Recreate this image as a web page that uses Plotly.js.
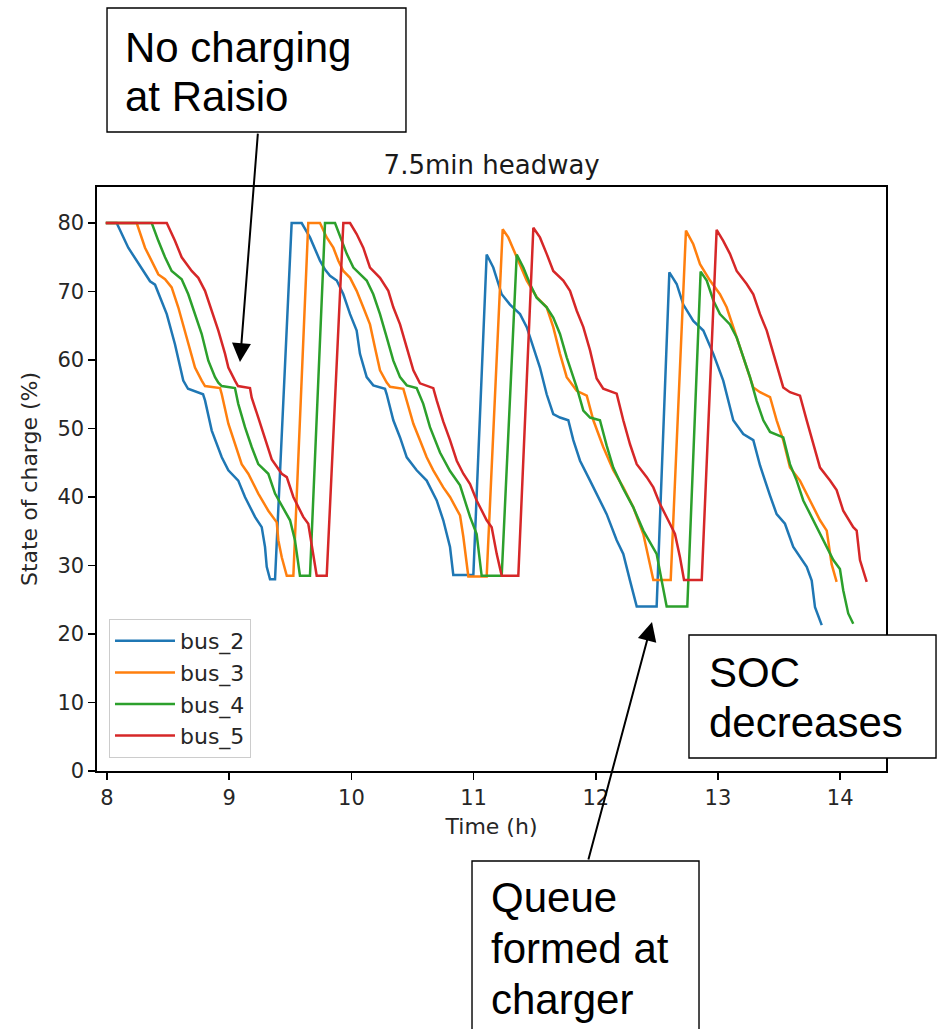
<!DOCTYPE html>
<html>
<head>
<meta charset="utf-8">
<script src="https://cdn.plot.ly/plotly-3.0.1.min.js"></script>
<style>
  html, body { margin: 0; padding: 0; background: #ffffff; }
  #chart { width: 941px; height: 1029px; }
</style>
</head>
<body>
<div id="chart"></div>
<script>
// State of charge of four buses over the operating day (time in hours, SOC in %)
const bus2Time = [7.99, 8.079, 8.174, 8.311, 8.352, 8.393, 8.489, 8.556, 8.624, 8.663, 8.786, 8.802, 8.857, 8.939, 8.993, 9.074, 9.129, 9.211, 9.266, 9.293, 9.307, 9.334, 9.375, 9.511, 9.593, 9.661, 9.743, 9.784, 9.825, 9.880, 9.934, 9.989, 10.043, 10.070, 10.125, 10.179, 10.275, 10.289, 10.343, 10.398, 10.453, 10.534, 10.616, 10.698, 10.752, 10.807, 10.834, 10.998, 11.107, 11.161, 11.230, 11.298, 11.380, 11.435, 11.489, 11.543, 11.598, 11.652, 11.707, 11.775, 11.816, 11.871, 11.953, 12.034, 12.089, 12.171, 12.225, 12.280, 12.335, 12.498, 12.602, 12.662, 12.716, 12.798, 12.880, 12.962, 13.043, 13.125, 13.207, 13.289, 13.344, 13.426, 13.480, 13.548, 13.616, 13.726, 13.767, 13.794, 13.849];
const bus2Soc = [80, 80, 76.4, 72.5, 71.5, 71.0, 66.7, 62.3, 57.0, 55.8, 55.0, 54.1, 49.7, 45.8, 43.9, 42.4, 40.0, 37.1, 35.6, 32.7, 29.8, 28.0, 28.0, 80, 80, 77.9, 74.5, 73.2, 72.3, 71.6, 69.6, 66.7, 64.3, 60.9, 57.5, 56.3, 55.8, 55.0, 51.2, 48.7, 45.8, 43.9, 42.4, 39.5, 36.6, 32.7, 28.6, 28.6, 75.4, 73.5, 69.6, 68.1, 66.7, 64.8, 61.8, 58.9, 55.0, 52.1, 51.6, 51.2, 48.3, 45.3, 42.4, 39.5, 37.5, 33.7, 31.7, 27.8, 24.0, 24.0, 72.8, 71.1, 68.1, 65.7, 64.3, 60.9, 57.0, 51.2, 49.2, 48.3, 44.6, 40.2, 37.5, 36.1, 32.7, 29.8, 27.8, 23.9, 21.3];

const bus3Time = [7.99, 8.243, 8.311, 8.366, 8.420, 8.475, 8.529, 8.583, 8.638, 8.693, 8.720, 8.775, 8.802, 8.925, 8.939, 8.993, 9.047, 9.102, 9.156, 9.238, 9.320, 9.389, 9.402, 9.430, 9.471, 9.525, 9.647, 9.743, 9.798, 9.852, 9.893, 9.934, 9.989, 10.043, 10.097, 10.152, 10.193, 10.234, 10.289, 10.316, 10.425, 10.453, 10.507, 10.561, 10.616, 10.670, 10.752, 10.807, 10.889, 10.916, 10.957, 11.107, 11.238, 11.284, 11.353, 11.435, 11.516, 11.598, 11.652, 11.707, 11.762, 11.844, 11.926, 11.980, 12.061, 12.143, 12.225, 12.307, 12.389, 12.444, 12.471, 12.613, 12.738, 12.798, 12.853, 12.935, 13.016, 13.071, 13.125, 13.180, 13.235, 13.289, 13.344, 13.426, 13.480, 13.534, 13.589, 13.671, 13.753, 13.835, 13.890, 13.930, 13.971];
const bus3Soc = [80, 80, 76.4, 74.5, 72.5, 71.8, 70.6, 67.7, 64.3, 60.9, 58.9, 57.0, 56.2, 55.9, 55.0, 50.7, 47.7, 44.8, 43.4, 40.5, 38.0, 36.3, 33.7, 31.2, 28.5, 28.5, 80, 80, 77.9, 76.4, 74.5, 73.0, 72.0, 70.1, 67.7, 65.2, 61.8, 58.5, 56.7, 56.1, 55.8, 54.1, 50.7, 48.3, 45.8, 43.9, 41.4, 40.0, 37.3, 34.2, 28.4, 28.4, 79.1, 77.9, 75.0, 71.6, 69.2, 67.7, 64.8, 60.9, 57.5, 55.5, 54.8, 51.2, 47.3, 43.9, 41.4, 38.5, 34.6, 30.2, 27.9, 27.9, 78.9, 76.9, 74.0, 71.6, 69.6, 67.7, 64.8, 62.0, 58.9, 56.0, 55.3, 54.6, 51.2, 48.3, 44.3, 42.4, 39.5, 36.6, 35.1, 30.2, 27.6];

const bus4Time = [7.99, 8.366, 8.420, 8.475, 8.529, 8.611, 8.665, 8.720, 8.775, 8.829, 8.884, 8.911, 8.939, 9.047, 9.074, 9.129, 9.184, 9.238, 9.320, 9.375, 9.457, 9.498, 9.538, 9.579, 9.661, 9.784, 9.866, 9.921, 9.962, 10.016, 10.070, 10.125, 10.179, 10.234, 10.289, 10.343, 10.398, 10.453, 10.534, 10.588, 10.643, 10.725, 10.807, 10.889, 10.971, 11.025, 11.066, 11.230, 11.353, 11.407, 11.462, 11.516, 11.598, 11.652, 11.707, 11.762, 11.844, 11.898, 11.953, 12.034, 12.089, 12.143, 12.225, 12.307, 12.389, 12.498, 12.539, 12.580, 12.749, 12.858, 12.908, 12.962, 13.016, 13.098, 13.153, 13.207, 13.262, 13.317, 13.371, 13.426, 13.534, 13.589, 13.644, 13.698, 13.780, 13.862, 13.944, 13.998, 14.025, 14.066, 14.107];
const bus4Soc = [80, 80, 77.4, 75.0, 73.0, 71.8, 69.6, 66.7, 63.8, 59.9, 57.5, 56.7, 56.2, 55.9, 53.6, 50.2, 47.3, 44.8, 43.4, 40.5, 38.0, 36.6, 33.7, 28.5, 28.5, 80, 80, 77.4, 75.5, 73.5, 72.5, 71.6, 69.6, 66.7, 63.3, 59.9, 57.5, 56.3, 55.9, 53.6, 50.2, 46.5, 43.8, 41.7, 37.1, 34.6, 28.5, 28.5, 75.4, 73.5, 71.1, 69.1, 67.7, 66.2, 63.8, 60.4, 56.0, 52.6, 51.6, 51.2, 47.5, 44.3, 41.2, 38.5, 35.1, 31.7, 27.8, 24.0, 24.0, 72.9, 71.6, 68.7, 66.7, 65.2, 63.3, 60.4, 57.5, 54.0, 51.2, 49.5, 48.7, 44.8, 42.4, 39.5, 36.6, 33.7, 30.8, 29.5, 26.4, 23.0, 21.5];

const bus5Time = [7.99, 8.489, 8.556, 8.611, 8.693, 8.747, 8.802, 8.857, 8.911, 8.966, 8.993, 9.047, 9.072, 9.170, 9.184, 9.238, 9.293, 9.348, 9.430, 9.471, 9.525, 9.606, 9.647, 9.688, 9.716, 9.798, 9.934, 9.989, 10.043, 10.097, 10.152, 10.234, 10.302, 10.343, 10.398, 10.453, 10.507, 10.561, 10.670, 10.698, 10.752, 10.807, 10.862, 10.916, 10.971, 11.025, 11.107, 11.148, 11.189, 11.230, 11.366, 11.489, 11.543, 11.598, 11.652, 11.734, 11.789, 11.844, 11.898, 11.953, 12.007, 12.061, 12.171, 12.225, 12.280, 12.335, 12.417, 12.471, 12.525, 12.607, 12.648, 12.689, 12.722, 12.867, 12.989, 13.043, 13.098, 13.153, 13.235, 13.289, 13.344, 13.399, 13.453, 13.507, 13.534, 13.589, 13.671, 13.726, 13.780, 13.835, 13.917, 13.971, 14.025, 14.107, 14.135, 14.162, 14.217];
const bus5Soc = [80, 80, 77.4, 75.0, 73.0, 72.0, 70.1, 67.2, 64.3, 60.9, 58.9, 57.0, 56.2, 55.9, 54.5, 51.6, 48.7, 45.5, 43.4, 42.9, 40.0, 37.1, 36.1, 31.7, 28.5, 28.5, 80, 80, 78.4, 76.4, 73.5, 72.0, 70.1, 67.7, 65.2, 61.8, 58.5, 56.6, 55.9, 54.1, 51.0, 48.3, 45.3, 43.4, 41.9, 39.5, 36.6, 35.6, 31.7, 28.5, 28.5, 79.3, 77.9, 75.5, 73.0, 71.6, 70.1, 67.2, 64.8, 61.4, 57.3, 55.8, 55.1, 51.2, 47.7, 44.8, 42.9, 41.4, 39.0, 36.1, 34.6, 31.2, 27.9, 27.9, 79.0, 77.4, 75.5, 73.0, 71.1, 69.6, 66.7, 64.3, 60.9, 57.5, 56.0, 55.3, 54.8, 51.2, 47.7, 44.3, 42.4, 41.0, 38.0, 35.6, 35.1, 30.8, 27.6];

const seriesNames = ['bus_2', 'bus_3', 'bus_4', 'bus_5'];
const seriesColors = ['#1f77b4', '#ff7f0e', '#2ca02c', '#d62728'];
const xTicks = [8, 9, 10, 11, 12, 13, 14];
const yTicks = [0, 10, 20, 30, 40, 50, 60, 70, 80];

const chartTitle = '7.5min headway';
const xLabel = 'Time (h)';
const yLabel = 'State of charge (%)';

// Callout texts, one entry per line
const noteRaisio = ['No charging', 'at Raisio'];
const noteSoc = ['SOC', 'decreases'];
const noteQueue = ['Queue', 'formed at', 'charger'];

const times = [bus2Time, bus3Time, bus4Time, bus5Time];
const socs = [bus2Soc, bus3Soc, bus4Soc, bus5Soc];

const traces = seriesNames.map((name, i) => ({
  type: 'scatter',
  mode: 'lines',
  name: name,
  x: times[i],
  y: socs[i],
  line: { color: seriesColors[i], width: 2.5 },
  hoverinfo: 'x+y+name'
}));

const tickFont = { family: 'DejaVu Sans, sans-serif', size: 21, color: '#262626' };
const labelFont = { family: 'DejaVu Sans, sans-serif', size: 22, color: '#262626' };
const calloutFont = { family: 'Liberation Sans, Arial, sans-serif', size: 42, color: '#000000' };

// Callout box frame (paper coordinates)
function box(x0, x1, y0, y1) {
  return {
    type: 'rect', xref: 'paper', yref: 'paper', layer: 'above',
    x0: x0, x1: x1, y0: y0, y1: y1,
    fillcolor: '#ffffff', line: { color: '#000000', width: 1.4 }
  };
}

function textLine(text, x, y) {
  return {
    xref: 'paper', yref: 'paper', x: x, y: y,
    xanchor: 'left', yanchor: 'middle', align: 'left',
    text: text, showarrow: false, borderpad: 0,
    font: calloutFont
  };
}

const annotations = [
  textLine(noteRaisio[0], 0.0342, 1.2385),
  textLine(noteRaisio[1], 0.0342, 1.1558),
  textLine(noteSoc[0], 0.7744, 0.1683),
  textLine(noteSoc[1], 0.7744, 0.0827),
  textLine(noteQueue[0], 0.4975, -0.2170),
  textLine(noteQueue[1], 0.4975, -0.3043),
  textLine(noteQueue[2], 0.4975, -0.3909),
  {
    xref: 'x', yref: 'y', x: 9.088, y: 59.7, ax: 18, ay: -230,
    text: '', showarrow: true, arrowhead: 2, arrowsize: 1.9, arrowwidth: 2,
    arrowcolor: '#000000', standoff: 0
  },
  {
    xref: 'x', yref: 'y', x: 12.46, y: 21.75, ax: -64, ay: 239,
    text: '', showarrow: true, arrowhead: 2, arrowsize: 1.9, arrowwidth: 2,
    arrowcolor: '#000000', standoff: 0
  }
];

const shapes = [
  box(0.0127, 0.3916, 1.0942, 1.3065),
  box(0.7503, 1.0634, 0.0223, 0.2329),
  box(0.4753, 0.7630, -0.4700, -0.1541)
];

const layout = {
  width: 941,
  height: 1029,
  margin: { l: 97, r: 55, t: 187, b: 258, pad: 0 },
  paper_bgcolor: '#ffffff',
  plot_bgcolor: '#ffffff',
  showlegend: true,
  title: {
    text: chartTitle,
    font: { family: 'DejaVu Sans, sans-serif', size: 26, color: '#1a1a1a' },
    x: 0.5225, xanchor: 'center', xref: 'container',
    y: 0.8395, yanchor: 'middle', yref: 'container'
  },
  xaxis: {
    range: [7.918, 14.375],
    tickmode: 'array', tickvals: xTicks, ticktext: xTicks.map(String),
    ticks: 'outside', ticklen: 7, tickwidth: 1.6, tickcolor: '#000000',
    showline: true, mirror: true, linecolor: '#000000', linewidth: 1.6,
    showgrid: false, zeroline: false,
    tickfont: tickFont,
    title: { text: xLabel, font: labelFont, standoff: 10 }
  },
  yaxis: {
    range: [0, 85.26],
    tickmode: 'array', tickvals: yTicks, ticktext: yTicks.map(String),
    ticks: 'outside', ticklen: 7, tickwidth: 1.6, tickcolor: '#000000',
    showline: true, mirror: true, linecolor: '#000000', linewidth: 1.6,
    showgrid: false, zeroline: false,
    tickfont: tickFont,
    title: { text: yLabel, font: labelFont, standoff: 14 }
  },
  legend: {
    x: 0.0152, y: 0.2603, xanchor: 'left', yanchor: 'top',
    bgcolor: 'rgba(255,255,255,0.8)', bordercolor: '#cccccc', borderwidth: 1,
    font: { family: 'DejaVu Sans, sans-serif', size: 22, color: '#262626' },
    itemwidth: 60
  },
  shapes: shapes,
  annotations: annotations
};

Plotly.newPlot('chart', traces, layout, { displayModeBar: false, staticPlot: true });
</script>
</body>
</html>
